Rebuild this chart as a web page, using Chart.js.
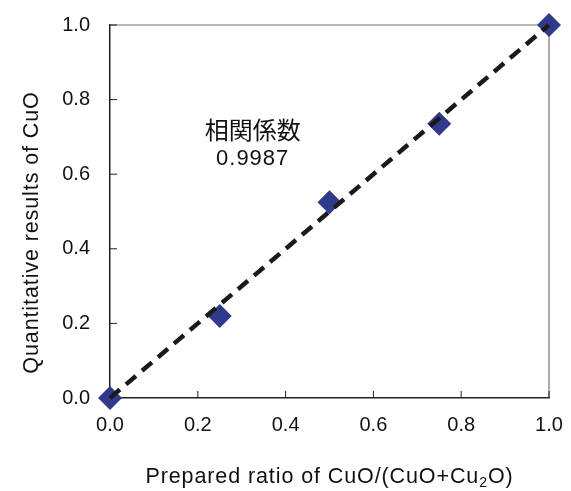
<!DOCTYPE html>
<html>
<head>
<meta charset="utf-8">
<script src="https://cdn.jsdelivr.net/npm/chart.js@4/dist/chart.umd.min.js"></script>
<style>
  html, body { margin: 0; padding: 0; background: #fff; }
</style>
</head>
<body>
<canvas id="ratioChart" width="571" height="491"></canvas>
<script>
// prepared vs quantified CuO ratio
const prepared = [0, 0.25, 0.5, 0.75, 1.0];
const measured = [0, 0.22, 0.525, 0.735, 1.0];
// y = x reference line
const fitX = [0, 1];
const fitY = [0, 1];
const tickValues = [0, 0.2, 0.4, 0.6, 0.8, 1.0];
const xTitle = ["Prepared ratio of CuO/(CuO+Cu", "2", "O)"];
const yTitle = "Quantitative results of CuO";
const noteLines = ["相関係数", "0.9987"];
const noteX = 0.325;
const noteY = [0.718, 0.642];

const SANS = '"Liberation Sans", Arial, Helvetica, sans-serif';
Chart.defaults.font.family = SANS;
Chart.defaults.color = "#111";

// inward ticks, gray top/right frame
const framePlugin = {
  id: "frame",
  beforeDatasetsDraw(chart) {
    const { ctx, chartArea: a, scales: { x, y } } = chart;
    ctx.save();
    ctx.strokeStyle = "#777";
    ctx.lineWidth = 1.2;
    ctx.beginPath();
    ctx.moveTo(a.left, a.top);
    ctx.lineTo(a.right, a.top);
    ctx.lineTo(a.right, a.bottom);
    ctx.stroke();

    ctx.strokeStyle = "#222";
    ctx.lineWidth = 1;
    ctx.beginPath();
    tickValues.forEach((v) => {
      const px = x.getPixelForValue(v);
      const py = y.getPixelForValue(v);
      ctx.moveTo(px, a.bottom);
      ctx.lineTo(px, a.bottom - 7);
      ctx.moveTo(a.left, py);
      ctx.lineTo(a.left + 7, py);
    });
    ctx.stroke();
    ctx.restore();
  },
  afterDraw(chart) {
    const { ctx, chartArea: a, scales: { x, y } } = chart;
    ctx.save();
    ctx.fillStyle = "#111";

    // annotation
    ctx.textAlign = "center";
    ctx.textBaseline = "middle";
    ctx.font = '24px "Noto Sans CJK JP", sans-serif';
    ctx.fillText(noteLines[0], x.getPixelForValue(noteX), y.getPixelForValue(noteY[0]));
    ctx.letterSpacing = "1px";
    ctx.font = "22px " + SANS;
    ctx.fillText(noteLines[1], x.getPixelForValue(noteX), y.getPixelForValue(noteY[1]));

    // axis titles (letter spacing is wider than default)
    ctx.letterSpacing = "0.9px";
    ctx.textAlign = "left";
    ctx.textBaseline = "alphabetic";
    const big = "21.5px " + SANS;
    const small = "14px " + SANS;
    ctx.font = big;
    const w0 = ctx.measureText(xTitle[0]).width;
    const w2 = ctx.measureText(xTitle[2]).width;
    ctx.font = small;
    const w1 = ctx.measureText(xTitle[1]).width;
    let tx = (a.left + a.right) / 2 - (w0 + w1 + w2) / 2;
    const ty = x.bottom - 8;
    ctx.font = big;
    ctx.fillText(xTitle[0], tx, ty);
    tx += w0;
    ctx.font = small;
    ctx.fillText(xTitle[1], tx, ty + 4);
    tx += w1;
    ctx.font = big;
    ctx.fillText(xTitle[2], tx, ty);

    ctx.translate(y.left + 38, (a.top + a.bottom) / 2 + 21);
    ctx.rotate(-Math.PI / 2);
    ctx.textAlign = "center";
    ctx.fillText(yTitle, 0, 0);
    ctx.restore();
  },
};

// hidden tick marks only used as label offset, so the
// label padding does not push the chart area inwards
const axisBase = {
  type: "linear",
  min: 0,
  max: 1,
  border: { display: true, color: "#222", width: 1.5 },
  afterBuildTicks: (scale) => {
    scale.ticks = tickValues.map((v) => ({ value: v }));
  },
};

new Chart(document.getElementById("ratioChart"), {
  type: "scatter",
  data: {
    datasets: [
      {
        type: "line",
        label: "y = x",
        data: fitX.map((v, i) => ({ x: v, y: fitY[i] })),
        borderColor: "#1a1a1a",
        borderWidth: 4.5,
        borderDash: [13, 8],
        pointRadius: 0,
        fill: false,
        clip: false,
        order: 0,
      },
      {
        label: "CuO",
        data: prepared.map((v, i) => ({ x: v, y: measured[i] })),
        pointStyle: "rectRot",
        pointRadius: 12,
        backgroundColor: "#2f3a8c",
        borderColor: "#2f3a8c",
        borderWidth: 0,
        clip: false,
        order: 1,
      },
    ],
  },
  options: {
    responsive: false,
    animation: false,
    layout: { padding: { top: 25, right: 22, left: 0, bottom: 0 } },
    plugins: { legend: { display: false }, tooltip: { enabled: false } },
    scales: {
      x: {
        ...axisBase,
        grid: { display: false, drawTicks: true, tickLength: 15 },
        ticks: { font: { size: 20 }, padding: 0, callback: (v) => v.toFixed(1) },
        afterFit: (scale) => { scale.height = 93; },
      },
      y: {
        ...axisBase,
        grid: { display: false, drawTicks: true, tickLength: 20 },
        ticks: { font: { size: 20 }, padding: 0, callback: (v) => v.toFixed(1) },
        afterFit: (scale) => { scale.width = 110; },
      },
    },
  },
  plugins: [framePlugin],
});
</script>
</body>
</html>
